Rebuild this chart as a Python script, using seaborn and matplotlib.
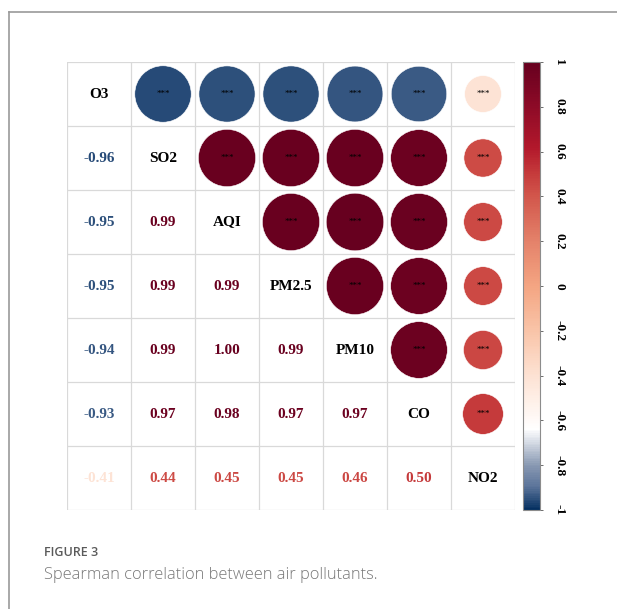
import numpy as np
import pandas as pd
import seaborn as sns
import matplotlib.pyplot as plt
from matplotlib.colors import LinearSegmentedColormap, Normalize
from matplotlib.cm import ScalarMappable
from matplotlib.lines import Line2D

# Pollutants in matrix order
pollutants = ["O3", "SO2", "AQI", "PM2.5", "PM10", "CO", "NO2"]

# Spearman coefficients, lower triangle row by row
r_SO2 = [-0.96]
r_AQI = [-0.95, 0.99]
r_PM25 = [-0.95, 0.99, 0.99]
r_PM10 = [-0.94, 0.99, 1.00, 0.99]
r_CO = [-0.93, 0.97, 0.98, 0.97, 0.97]
r_NO2 = [-0.41, 0.44, 0.45, 0.45, 0.46, 0.50]
lower_rows = [r_SO2, r_AQI, r_PM25, r_PM10, r_CO, r_NO2]

# significance marks for every upper-triangle pair
sig_mark = "***"

colorbar_ticks = [-1, -0.8, -0.6, -0.4, -0.2, 0, 0.2, 0.4, 0.6, 0.8, 1]

n = len(pollutants)
corr = np.eye(n)
for i, row in enumerate(lower_rows, start=1):
    for j, v in enumerate(row):
        corr[i, j] = v
        corr[j, i] = v

# diverging palette (blue -> white -> salmon -> dark red)
stops = [
    (-1.00, "#053061"),
    (-0.90, "#5a7399"),
    (-0.80, "#8a9ab3"),
    (-0.70, "#d5dbe5"),
    (-0.64, "#ffffff"),
    (-0.40, "#fde2d3"),
    (-0.20, "#f9c4a8"),
    (0.00, "#f4a582"),
    (0.20, "#e4826a"),
    (0.40, "#d2574c"),
    (0.50, "#c63c3c"),
    (0.62, "#b2182b"),
    (0.80, "#8e0b27"),
    (1.00, "#67001f"),
]
cmap = LinearSegmentedColormap.from_list(
    "corr_rdbu", [((v + 1) / 2, c) for v, c in stops], N=256
)
norm = Normalize(-1, 1)

plt.rcParams["font.family"] = ["Liberation Serif", "DejaVu Serif"]

W, H = 617, 609
fig = plt.figure(figsize=(W / 100, H / 100), dpi=100)

# matrix panel: 7x7 cells, 64 px each
left, top, size = 67, 62, 448
ax = fig.add_axes([left / W, 1 - (top + size) / H, size / W, size / H])

# upper triangle circles
upper = pd.DataFrame(
    [
        {"x": j, "y": i, "r": corr[i, j], "absr": abs(corr[i, j])}
        for i in range(n)
        for j in range(n)
        if j > i
    ]
)
cell_pt = 64 * 0.72
max_area = (0.9 * cell_pt) ** 2
sns.scatterplot(
    data=upper, x="x", y="y", hue="r", palette=cmap, hue_norm=norm,
    size="absr", sizes=(0, max_area), size_norm=(0, 1),
    edgecolor="white", linewidth=0.4, legend=False, ax=ax, zorder=3,
)
for _, p in upper.iterrows():
    ax.text(p.x, p.y, sig_mark, ha="center", va="center", fontsize=6.5,
            color="black", zorder=4)

# diagonal names and lower triangle values
for i in range(n):
    ax.text(i, i, pollutants[i], ha="center", va="center", fontsize=11,
            fontweight="bold", color="black")
    for j in range(i):
        v = corr[i, j]
        ax.text(j, i, f"{v:.2f}", ha="center", va="center", fontsize=11,
                fontweight="bold", color=cmap(norm(v)))

# cell grid
for k in range(n + 1):
    ax.axvline(k - 0.5, color="#d9d9d9", lw=0.9, zorder=1)
    ax.axhline(k - 0.5, color="#d9d9d9", lw=0.9, zorder=1)

ax.set_xlim(-0.5, n - 0.5)
ax.set_ylim(n - 0.5, -0.5)
ax.set_aspect("auto")
ax.axis("off")

# colour key
cax = fig.add_axes([523 / W, 1 - (top + size) / H, 17 / W, size / H])
cb = fig.colorbar(ScalarMappable(norm=norm, cmap=cmap), cax=cax,
                  ticks=colorbar_ticks)
cb.outline.set_edgecolor("#8c8c8c")
cb.outline.set_linewidth(0.8)
cax.set_yticklabels([f"{t:g}" for t in colorbar_ticks], rotation=-90,
                    va="center", fontsize=9.5, fontweight="bold")
cax.tick_params(axis="y", length=2.5, width=0.6, color="#555555", pad=7)

# panel frame
fig.add_artist(Line2D([9 / W, 1], [1 - 12 / H, 1 - 12 / H],
                      color="#9a9a9a", lw=1.2, transform=fig.transFigure))
fig.add_artist(Line2D([9 / W, 9 / W], [0, 1 - 12 / H],
                      color="#9a9a9a", lw=1.2, transform=fig.transFigure))

# caption
fig.text(44 / W, 1 - 553 / H, "FIGURE 3", fontsize=9, color="#5a5a5a",
         family=["Open Sans", "DejaVu Sans"], va="center", ha="left",
         fontweight="semibold")
fig.text(44 / W, 1 - 575 / H, "Spearman correlation between air pollutants.",
         fontsize=11.8, color="#777777", family=["Open Sans", "DejaVu Sans"],
         va="center", ha="left", fontweight="light")

fig.savefig("out.png", dpi=100)
